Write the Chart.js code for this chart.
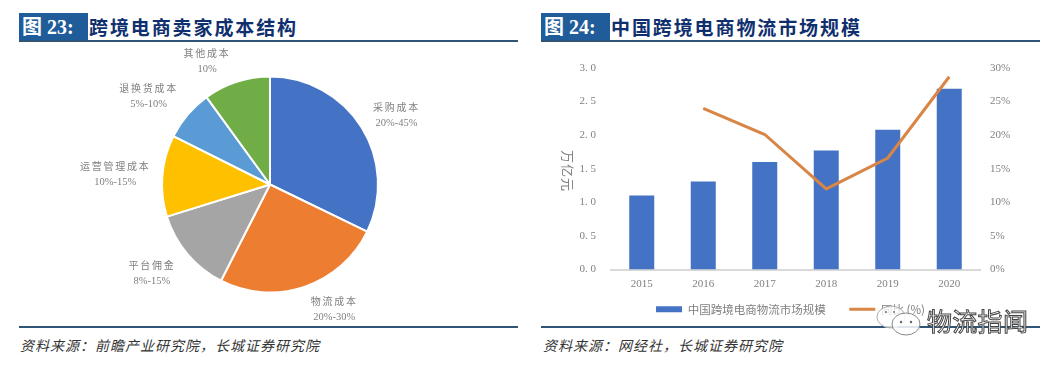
<!DOCTYPE html>
<html>
<head>
<meta charset="utf-8">
<script src="https://cdn.jsdelivr.net/npm/chart.js@4"></script>
<style>
  html, body { margin: 0; padding: 0; background: #fff; }
  body { position: relative; width: 1064px; height: 366px; overflow: hidden; font-family: "Noto Sans CJK SC", sans-serif; }
  .tag { position: absolute; top: 13px; height: 28px; width: 69px; background: #1f5c99; color: #fff; font: bold 20px/28px "Liberation Serif", "Noto Sans CJK SC", serif; padding-left: 3px; box-sizing: border-box; white-space: pre; }
  .title { position: absolute; top: 13px; height: 28px; color: #0f2f6e; font: bold 19px/28px "Noto Sans CJK SC", sans-serif; letter-spacing: 1.9px; white-space: nowrap; }
  .rule { position: absolute; height: 2px; background: #2f5577; }
  .source { position: absolute; top: 335px; color: #333; font: italic 14px/20px "Noto Sans CJK SC", sans-serif; letter-spacing: 1px; white-space: nowrap; }
  .box { position: absolute; }
  .unit { position: absolute; left: 561px; top: 150px; color: #808080; font: 13px/14px "Noto Sans CJK SC", sans-serif; letter-spacing: 1px; writing-mode: vertical-rl; text-orientation: sideways; white-space: nowrap; }
  .mark { position: absolute; left: 875px; top: 303px; width: 160px; height: 36px; }
  .mark svg { position: absolute; left: 0; top: 0; }
  .mark span { position: absolute; left: 52px; top: 1px; font: 25px/32px "Noto Sans CJK SC", sans-serif; color: #fff; -webkit-text-stroke: 1px #444; letter-spacing: 0.3px; white-space: nowrap; }
</style>
</head>
<body>
  <div class="tag" style="left:19px">图 23:</div>
  <div class="title" style="left:89px">跨境电商卖家成本结构</div>
  <div class="rule" style="left:19px;top:40px;width:499px"></div>
  <div class="rule" style="left:19px;top:326px;width:499px"></div>
  <div class="source" style="left:20px">资料来源：前瞻产业研究院，长城证券研究院</div>

  <div class="tag" style="left:541px">图 24:</div>
  <div class="title" style="left:611px">中国跨境电商物流市场规模</div>
  <div class="rule" style="left:541px;top:40px;width:499px"></div>
  <div class="rule" style="left:541px;top:326px;width:499px"></div>
  <div class="source" style="left:543px">资料来源：网经社，长城证券研究院</div>

  <div class="box" style="left:19px;top:44px;width:502px;height:281px"><canvas id="pie"></canvas></div>
  <div class="box" style="left:541px;top:45px;width:499px;height:280px"><canvas id="combo"></canvas></div>
  <div class="unit">万亿元</div>

  <div class="mark">
    <svg width="52" height="36" viewBox="0 0 52 36">
      <ellipse cx="16" cy="14" rx="14" ry="11" fill="rgba(255,255,255,0.75)" stroke="#aaa"/>
      <ellipse cx="31" cy="21" rx="14" ry="11" fill="rgba(255,255,255,0.85)" stroke="#888"/>
      <circle cx="11" cy="9" r="1" fill="#777"/>
      <circle cx="19" cy="9" r="1" fill="#777"/>
      <circle cx="26" cy="19" r="1.2" fill="#666"/>
      <circle cx="36" cy="19" r="1.2" fill="#666"/>
    </svg>
    <span>物流指闻</span>
  </div>

<script>
const COLORS = {
  blue: "#4472c4",
  orange: "#ed7d31",
  gray: "#a5a5a5",
  yellow: "#ffc000",
  sky: "#5b9bd5",
  green: "#70ad47",
  line: "#d98546",
  text: "#808080",
  axis: "#d9d9d9",
};

// pie
const costNames = ["采购成本", "物流成本", "平台佣金", "运营管理成本", "退换货成本", "其他成本"];
const costRanges = ["20%-45%", "20%-30%", "8%-15%", "10%-15%", "5%-10%", "10%"];
const costShares = [32.2, 25.3, 12.7, 12.2, 7.6, 10.0];

// combo
const years = ["2015", "2016", "2017", "2018", "2019", "2020"];
const marketSize = [1.1, 1.31, 1.6, 1.77, 2.08, 2.69];
const growth = [null, 24.0, 20.1, 12.0, 16.6, 28.7];
const sizeTicks = ["0.0", "0.5", "1.0", "1.5", "2.0", "2.5", "3.0"];

// label nudges from the slice rim, px
const labelNudges = [[35, -12], [30, 22], [-35.5, 19.5], [-47, -1], [-39, -18.4], [-29.6, -20.4]];

const tickFont = { family: "'Liberation Serif', serif", size: 11 };

const pieLabels = {
  id: "pieLabels",
  afterDatasetsDraw: (chart) => {
    const { ctx } = chart;
    ctx.save();
    ctx.fillStyle = COLORS.text;
    ctx.textAlign = "center";
    ctx.textBaseline = "middle";

    chart.getDatasetMeta(0).data.forEach((arc, i) => {
      const mid = (arc.startAngle + arc.endAngle) / 2;
      const x = arc.x + Math.cos(mid) * arc.outerRadius + labelNudges[i][0];
      const y = arc.y + Math.sin(mid) * arc.outerRadius + labelNudges[i][1];

      ctx.font = "10px 'Noto Sans CJK SC', sans-serif";
      ctx.letterSpacing = "1.75px";
      ctx.fillText(costNames[i], x, y - 8);

      ctx.font = "10.5px 'Liberation Serif', serif";
      ctx.letterSpacing = "0px";
      ctx.fillText(costRanges[i], x, y + 8);
    });
    ctx.restore();
  },
};

new Chart(document.getElementById("pie"), {
  type: "pie",
  data: {
    labels: costNames,
    datasets: [{
      data: costShares,
      backgroundColor: [COLORS.blue, COLORS.orange, COLORS.gray, COLORS.yellow, COLORS.sky, COLORS.green],
      borderColor: "#fff",
      borderWidth: 2,
    }],
  },
  options: {
    animation: false,
    responsive: true,
    maintainAspectRatio: false,
    layout: { padding: 31.5 },
    plugins: { legend: { display: false }, tooltip: { enabled: false } },
  },
  plugins: [pieLabels],
});

new Chart(document.getElementById("combo"), {
  type: "bar",
  data: {
    labels: years,
    datasets: [
      {
        type: "line",
        label: "同比 (%)",
        data: growth,
        yAxisID: "y1",
        borderColor: COLORS.line,
        backgroundColor: COLORS.line,
        borderWidth: 3,
        pointRadius: 0,
        pointStyle: "line",
        order: 1,
      },
      {
        // trailing wide space widens the gap to the next legend item
        label: "中国跨境电商物流市场规模\u3000",
        data: marketSize,
        yAxisID: "y",
        backgroundColor: COLORS.blue,
        borderWidth: 0,
        barPercentage: 0.813,
        categoryPercentage: 0.5,
        pointStyle: "rect",
        order: 2,
      },
    ],
  },
  options: {
    animation: false,
    responsive: true,
    maintainAspectRatio: false,
    layout: { padding: { top: 23, left: 0, right: 0, bottom: 0 } },
    scales: {
      x: {
        afterFit: (scale) => { scale.height = 22; },
        grid: { display: false, drawTicks: false },
        border: { color: COLORS.axis, width: 2 },
        ticks: { color: COLORS.text, font: tickFont, padding: 8 },
      },
      y: {
        min: 0,
        max: 3,
        afterFit: (scale) => { scale.width = 70; },
        grid: { display: false, drawTicks: false },
        border: { display: false },
        ticks: {
          stepSize: 0.5,
          color: COLORS.text,
          font: tickFont,
          padding: 15,
          callback: (value, i) => sizeTicks[i].replace(".", ". "),
        },
      },
      y1: {
        position: "right",
        min: 0,
        max: 30,
        afterFit: (scale) => { scale.width = 60; },
        grid: { display: false, drawTicks: false },
        border: { display: false },
        ticks: {
          stepSize: 5,
          color: COLORS.text,
          font: tickFont,
          padding: 10,
          callback: (value) => value + "%",
        },
      },
    },
    plugins: {
      tooltip: { enabled: false },
      legend: {
        position: "bottom",
        reverse: true,
        labels: {
          usePointStyle: true,
          pointStyleWidth: 26,
          boxHeight: 6,
          padding: 12,
          color: COLORS.text,
          font: { family: "'Noto Sans CJK SC', sans-serif", size: 11.5 },
        },
      },
    },
  },
});
</script>
</body>
</html>
